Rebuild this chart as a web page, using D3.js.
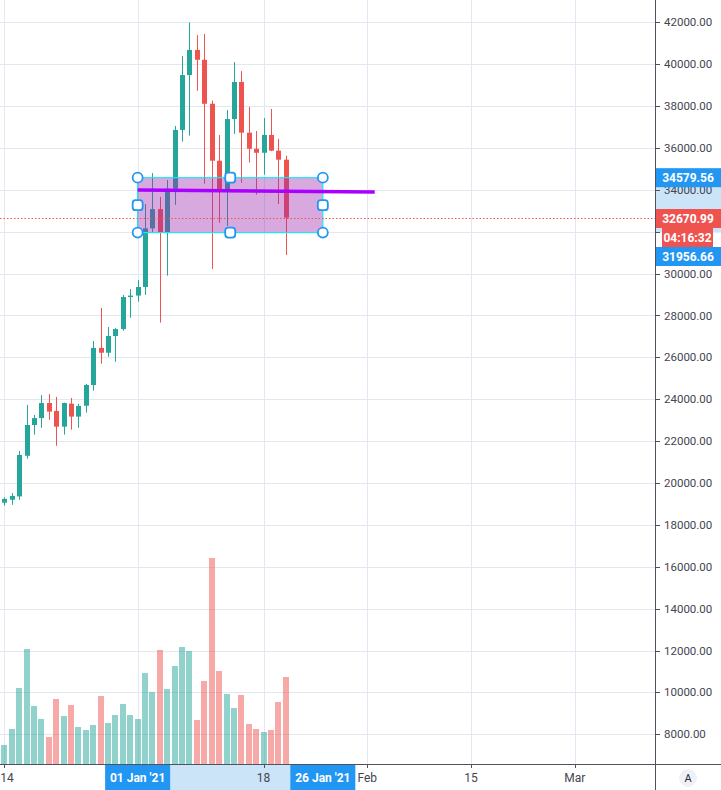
<!DOCTYPE html>
<html>
<head>
<meta charset="utf-8">
<script src="https://d3js.org/d3.v7.min.js"></script>
<style>
body { margin: 0; background: #ffffff; }
svg { display: block; font-family: Roboto, "Liberation Sans", sans-serif; }
</style>
</head>
<body>
<svg width="721" height="790"></svg>
<script>
var dates = ["2020-12-14", "2020-12-15", "2020-12-16", "2020-12-17", "2020-12-18", "2020-12-19", "2020-12-20",
	"2020-12-21", "2020-12-22", "2020-12-23", "2020-12-24", "2020-12-25", "2020-12-26", "2020-12-27",
	"2020-12-28", "2020-12-29", "2020-12-30", "2020-12-31", "2021-01-01", "2021-01-02", "2021-01-03",
	"2021-01-04", "2021-01-05", "2021-01-06", "2021-01-07", "2021-01-08", "2021-01-09", "2021-01-10",
	"2021-01-11", "2021-01-12", "2021-01-13", "2021-01-14", "2021-01-15", "2021-01-16", "2021-01-17",
	"2021-01-18", "2021-01-19", "2021-01-20", "2021-01-21"]

var opens = [19060, 19200, 19360, 21300, 22770, 23100, 23820, 23440, 22690, 23790, 23170, 23690, 24680, 26450,
	26220, 27020, 27350, 28880, 28950, 29360, 32160, 33080, 31950, 34050, 36860, 39480, 40680, 40210,
	38110, 35390, 33990, 37380, 39150, 36730, 35960, 35770, 36620, 35870, 35440]
var highs = [19320, 19520, 21530, 23730, 23250, 24200, 24250, 24110, 23840, 24060, 23780, 24730, 26780, 28360,
	27450, 27400, 28980, 29260, 29690, 33320, 34800, 33660, 34470, 37050, 40390, 41990, 41390, 41440,
	38260, 36620, 37810, 40100, 39670, 37960, 36810, 37430, 37860, 36430, 35630]
var lows = [18920, 18960, 19200, 21160, 22310, 22640, 23020, 21780, 22310, 22550, 22640, 23360, 24410, 25700,
	26030, 25790, 27270, 27890, 28660, 28980, 31950, 27660, 29900, 33280, 36300, 36590, 38730, 34290,
	30220, 32430, 32270, 36670, 34340, 35300, 33770, 34720, 35850, 33320, 30890]
var closes = [19240, 19380, 21340, 22770, 23100, 23820, 23410, 22690, 23820, 23170, 23680, 24680, 26450, 26220,
	27020, 27350, 28880, 28950, 29360, 32160, 33080, 31950, 34050, 36860, 39480, 40680, 40210, 38110,
	35390, 33990, 37380, 39150, 36730, 35960, 35770, 36620, 35870, 35440, 32670.99]

// volume, thousands
var volumes = [19, 35, 76, 115, 58, 45, 27, 65, 48, 59, 37, 34, 39, 68, 41, 49, 60, 49, 45, 91, 72, 114, 75, 98,
	117, 113, 44, 83, 206, 93, 70, 56, 69, 40, 35, 32, 34, 62, 87]

var priceTicks = [8000, 10000, 12000, 14000, 16000, 18000, 20000, 22000, 24000, 26000, 28000, 30000, 32000,
	34000, 36000, 38000, 40000, 42000]
var timeTicks = ["2020-12-14", "2021-01-01", "2021-01-18", "2021-02-01", "2021-02-15", "2021-03-01"]
var timeTickLabels = ["14", "", "18", "Feb", "15", "Mar"]

var rectDates = ["2021-01-01", "2021-01-26"]
var rectPrices = [34579.56, 31956.66]
var rectDateLabels = ["01 Jan '21", "26 Jan '21"]
var lineDates = ["2021-01-01", "2021-02-02"]
var linePrices = [33990, 33900]
var lastPrice = 32670.99
var countdown = "04:16:32"

function main() {

	var width = 721
	var height = 790
	var svg = d3.select("svg"),
		axisX = 655,
		axisY = 764

	var parse = d3.utcParse("%Y-%m-%d")

	var xScale = d3.scaleUtc()
		.domain([parse("2020-12-14"), parse("2021-03-01")])
		.range([4.3, 574.7]);
	var yScale = d3.scaleLinear()
		.domain([8000, 42000])
		.range([734.3, 22.3]);
	var vScale = d3.scaleLinear()
		.domain([0, 250])
		.range([axisY, axisY - 250]);

	var fmt = d3.format(".2f")

	var data = dates.map(function (d, i) {
		return {
			date: parse(d),
			open: opens[i],
			high: highs[i],
			low: lows[i],
			close: closes[i],
			volume: volumes[i]
		};
	});

	var up = "#26a69a",
		down = "#ef5350",
		blue = "#2196f3",
		band = "#cce4f8",
		axisColor = "#50535e",
		textColor = "#434651"

	svg.append("rect")
		.attr("width", width)
		.attr("height", height)
		.attr("fill", "#ffffff");

	// grid
	var grid = svg.append("g");
	grid.selectAll(".hgrid")
		.data(priceTicks)
		.enter().append("line")
		.attr("x1", 0)
		.attr("x2", axisX)
		.attr("y1", d => Math.round(yScale(d)) + 0.5)
		.attr("y2", d => Math.round(yScale(d)) + 0.5)
		.attr("stroke", "#e1e8ef");
	grid.selectAll(".vgrid")
		.data(timeTicks)
		.enter().append("line")
		.attr("x1", d => Math.round(xScale(parse(d))) + 0.5)
		.attr("x2", d => Math.round(xScale(parse(d))) + 0.5)
		.attr("y1", 0)
		.attr("y2", axisY)
		.attr("stroke", "#e1e8ef");

	// volume
	svg.append("g").selectAll("rect")
		.data(data)
		.enter().append("rect")
		.attr("x", d => Math.round(xScale(d.date)) - 3)
		.attr("width", 6)
		.attr("y", d => vScale(d.volume))
		.attr("height", d => axisY - vScale(d.volume))
		.attr("fill", d => d.close >= d.open ? "rgba(38,166,154,0.5)" : "rgba(239,83,80,0.5)");

	// candles
	var candle = svg.append("g").selectAll("g")
		.data(data)
		.enter().append("g");

	candle.append("rect")
		.attr("x", d => Math.round(xScale(d.date)))
		.attr("width", 1)
		.attr("y", d => yScale(d.high))
		.attr("height", d => yScale(d.low) - yScale(d.high))
		.attr("fill", d => d.close >= d.open ? up : down);

	candle.append("rect")
		.attr("x", d => Math.round(xScale(d.date)) - 2)
		.attr("width", 5)
		.attr("y", d => yScale(Math.max(d.open, d.close)))
		.attr("height", d => Math.max(1, Math.abs(yScale(d.open) - yScale(d.close))))
		.attr("fill", d => d.close >= d.open ? up : down);

	// rectangle drawing
	var rx0 = xScale(parse(rectDates[0])),
		rx1 = xScale(parse(rectDates[1])),
		ry0 = yScale(rectPrices[0]),
		ry1 = yScale(rectPrices[1])

	svg.append("rect")
		.attr("x", rx0)
		.attr("y", ry0)
		.attr("width", rx1 - rx0)
		.attr("height", ry1 - ry0)
		.attr("fill", "rgba(156,39,176,0.4)")
		.attr("stroke", "#1ee6f4")
		.attr("stroke-width", 1.2);

	// current price line
	var lastY = Math.round(yScale(lastPrice)) + 0.5
	svg.append("line")
		.attr("x1", 0)
		.attr("x2", axisX)
		.attr("y1", lastY)
		.attr("y2", lastY)
		.attr("stroke", down)
		.attr("stroke-width", 1)
		.attr("stroke-dasharray", "1.5,2");

	// trend line
	svg.append("line")
		.attr("x1", xScale(parse(lineDates[0])))
		.attr("y1", yScale(linePrices[0]))
		.attr("x2", xScale(parse(lineDates[1])))
		.attr("y2", yScale(linePrices[1]))
		.attr("stroke", "#aa00ff")
		.attr("stroke-width", 3.5);

	// handles
	var rxm = (rx0 + rx1) / 2,
		rym = (ry0 + ry1) / 2
	var corners = [[rx0, ry0], [rx1, ry0], [rx0, ry1], [rx1, ry1]]
	var mids = [[rxm, ry0], [rxm, ry1], [rx0, rym], [rx1, rym]]

	svg.append("g").selectAll("circle")
		.data(corners)
		.enter().append("circle")
		.attr("cx", d => d[0])
		.attr("cy", d => d[1])
		.attr("r", 5)
		.attr("fill", "#ffffff")
		.attr("stroke", blue)
		.attr("stroke-width", 1.8);

	svg.append("g").selectAll("rect")
		.data(mids)
		.enter().append("rect")
		.attr("x", d => d[0] - 5)
		.attr("y", d => d[1] - 5)
		.attr("width", 10)
		.attr("height", 10)
		.attr("rx", 3)
		.attr("fill", "#ffffff")
		.attr("stroke", blue)
		.attr("stroke-width", 1.8);

	// price axis
	var pa = svg.append("g");

	pa.append("rect")
		.attr("x", axisX)
		.attr("y", ry0)
		.attr("width", width - axisX)
		.attr("height", ry1 - ry0)
		.attr("fill", band);

	pa.selectAll(".tick")
		.data(priceTicks)
		.enter().append("line")
		.attr("x1", axisX)
		.attr("x2", axisX + 5)
		.attr("y1", d => Math.round(yScale(d)) + 0.5)
		.attr("y2", d => Math.round(yScale(d)) + 0.5)
		.attr("stroke", axisColor);

	pa.selectAll(".lbl")
		.data(priceTicks)
		.enter().append("text")
		.attr("x", axisX + 9)
		.attr("y", d => yScale(d))
		.attr("dy", "0.35em")
		.attr("font-size", "11.5px")
		.attr("fill", textColor)
		.text(d => fmt(d));

	function priceLabel(cy, txt, color, x, w) {
		pa.append("rect")
			.attr("x", x)
			.attr("y", cy - 9.5)
			.attr("width", w)
			.attr("height", 19)
			.attr("fill", color);
		pa.append("text")
			.attr("x", x + w / 2)
			.attr("y", cy)
			.attr("dy", "0.35em")
			.attr("text-anchor", "middle")
			.attr("font-size", "12px")
			.attr("font-weight", "bold")
			.attr("fill", "#ffffff")
			.text(txt);
	}

	priceLabel(ry0, fmt(rectPrices[0]), blue, axisX, width - axisX)
	priceLabel(lastY, fmt(lastPrice), down, axisX, width - axisX)
	priceLabel(lastY + 19, countdown, down, axisX + 7, 51)
	priceLabel(lastY + 38, fmt(rectPrices[1]), blue, axisX, width - axisX)

	// time axis
	var ta = svg.append("g");

	ta.append("rect")
		.attr("x", rx0)
		.attr("y", axisY)
		.attr("width", rx1 - rx0)
		.attr("height", height - axisY)
		.attr("fill", band);

	ta.selectAll(".tick")
		.data(timeTicks)
		.enter().append("line")
		.attr("x1", d => Math.round(xScale(parse(d))) + 0.5)
		.attr("x2", d => Math.round(xScale(parse(d))) + 0.5)
		.attr("y1", axisY)
		.attr("y2", axisY + 4)
		.attr("stroke", axisColor);

	ta.selectAll(".lbl")
		.data(timeTicks.filter((d, i) => timeTickLabels[i] != ""))
		.enter().append("text")
		.attr("x", (d, i) => i == 0 ? 7 : xScale(parse(d)))
		.attr("y", 782)
		.attr("text-anchor", "middle")
		.attr("font-size", "12px")
		.attr("fill", textColor)
		.text(d => timeTickLabels[timeTicks.indexOf(d)]);

	rectDates.forEach(function (d, i) {
		var cx = xScale(parse(d))
		ta.append("rect")
			.attr("x", cx - 32.5)
			.attr("y", axisY + 1)
			.attr("width", 65)
			.attr("height", height - axisY - 1)
			.attr("fill", blue);
		ta.append("text")
			.attr("x", cx)
			.attr("y", 782)
			.attr("text-anchor", "middle")
			.attr("font-size", "12px")
			.attr("font-weight", "bold")
			.attr("fill", "#ffffff")
			.text(rectDateLabels[i]);
	});

	// axis borders
	svg.append("line")
		.attr("x1", 0)
		.attr("x2", width)
		.attr("y1", axisY + 0.5)
		.attr("y2", axisY + 0.5)
		.attr("stroke", axisColor);
	svg.append("line")
		.attr("x1", axisX + 0.5)
		.attr("x2", axisX + 0.5)
		.attr("y1", 0)
		.attr("y2", height)
		.attr("stroke", axisColor);

	// auto scale button
	svg.append("circle")
		.attr("cx", 688)
		.attr("cy", 778)
		.attr("r", 9)
		.attr("fill", "#eef1f7");
	svg.append("text")
		.attr("x", 688)
		.attr("y", 778)
		.attr("dy", "0.35em")
		.attr("text-anchor", "middle")
		.attr("font-size", "11px")
		.attr("fill", "#2a2e39")
		.text("A");
}

main();
</script>
</body>
</html>
